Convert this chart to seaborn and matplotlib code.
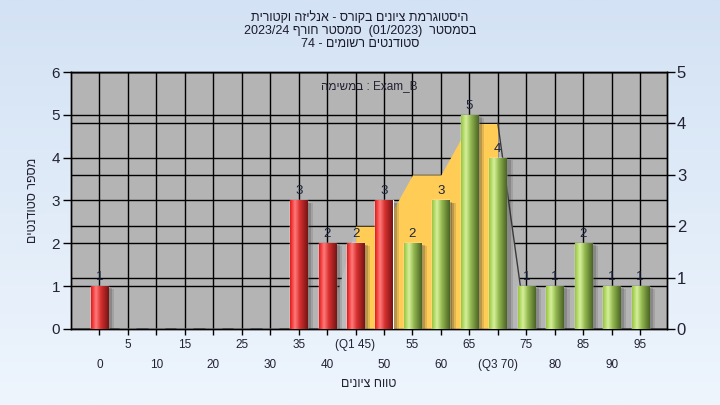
import numpy as np
import pandas as pd
import matplotlib
matplotlib.use("Agg")
import matplotlib.pyplot as plt
import matplotlib.patheffects as pe
from matplotlib.colors import LinearSegmentedColormap, to_rgb
import seaborn as sns

# data
grades = list(range(0, 100, 5))
counts = [1, 0, 0, 0, 0, 0, 0, 3, 2, 2, 3, 2, 3, 5, 4, 1, 1, 2, 1, 1]
tick_labels = ['0', '5', '10', '15', '20', '25', '30', '35', '40', '(Q1 45)',
               '50', '55', '60', '65', '(Q3 70)', '75', '80', '85', '90', '95']
pass_grade = 55
# spread curve on the right axis (yellow between Q1 and Q3)
curve_grades = [40, 45, 50, 55, 60, 65, 70, 75]
curve_values = [0, 2, 2, 3, 3, 4, 4, 0]
q1, q3 = 45, 70

title_lines = ["היסטוגרמת ציונים בקורס - אנליזה וקטורית",
               "בסמסטר  (01/2023)  סמסטר חורף 2023/24",
               "סטודנטים רשומים - 74"]
task_text = "Exam_B : במשימה"
x_title = "טווח ציונים"
y_title = "מספר סטודנטים"


def rtl(s):
    # matplotlib has no bidi support: put words in visual order by hand
    out = []
    for t in reversed(s.split(' ')):
        if any('\u0590' <= c <= '\u05ff' for c in t):
            out.append(t[::-1])
        else:
            out.append(t)
    return ' '.join(out)


sns.set_style("ticks")
plt.rcParams['font.family'] = ['Liberation Sans', 'DejaVu Sans']

df = pd.DataFrame({'grade': [str(g) for g in grades], 'count': counts,
                   'band': ['low' if g < pass_grade else 'high' for g in grades]})

fig = plt.figure(figsize=(7.2, 4.05), dpi=100)

# background gradient
bg = fig.add_axes([0, 0, 1, 1], zorder=-10)
bg.imshow(np.linspace(0, 1, 256).reshape(-1, 1), aspect='auto', extent=[0, 1, 0, 1],
          cmap=LinearSegmentedColormap.from_list('bg', ['#d3e2f4', '#eef5fd']))
bg.axis('off')

ax = fig.add_axes([0.0986, 0.1877, 0.828, 0.6345])
ax2 = ax.twinx()
ax.set_zorder(ax2.get_zorder() + 1)
ax.patch.set_visible(False)
ax2.patch.set_visible(True)
ax2.patch.set_facecolor('#b4b4b4')

sns.barplot(data=df, x='grade', y='count', hue='band', order=df['grade'],
            palette={'low': '#e82020', 'high': '#9cc84a'}, dodge=False,
            width=0.6, errorbar=None, legend=False, ax=ax, zorder=3)

red_cmap = LinearSegmentedColormap.from_list(
    'red', [(0, '#e81818'), (0.28, '#ff7a7a'), (0.55, '#d83030'), (1, '#761414')])
green_cmap = LinearSegmentedColormap.from_list(
    'green', [(0, '#98c640'), (0.28, '#d6f09a'), (0.55, '#93b850'), (1, '#4a6424')])
grad = np.linspace(0, 1, 64).reshape(1, -1)
shadow = [pe.SimplePatchShadow(offset=(1.5, -1), shadow_rgbFace='#303030', alpha=0.3),
          pe.SimplePatchShadow(offset=(3, -1.5), shadow_rgbFace='#303030', alpha=0.22),
          pe.SimplePatchShadow(offset=(4.5, -2), shadow_rgbFace='#303030', alpha=0.14),
          pe.Normal()]
for p in list(ax.patches):
    h = p.get_height()
    if not h or np.isnan(h):
        continue
    p.set_path_effects(shadow)
    cmap = red_cmap if to_rgb(p.get_facecolor())[1] < 0.3 else green_cmap
    x0 = p.get_x()
    im = ax.imshow(grad, cmap=cmap, aspect='auto', zorder=3.5,
                   extent=[x0, x0 + p.get_width(), 0, h])
    im.set_clip_path(p)

# spread area drawn with the right-axis scale, under the bars
cx = [grades.index(g) for g in curve_grades]
i1, i3 = curve_grades.index(q1), curve_grades.index(q3)
ax.fill_between(cx[:i1 + 1], curve_values[:i1 + 1], color='#bcbcbc', lw=0,
                transform=ax2.transData, zorder=2)
ax.fill_between(cx[i1:i3 + 1], curve_values[i1:i3 + 1], color='#ffcc55', lw=0,
                transform=ax2.transData, zorder=2)
ax.fill_between(cx[i3:], curve_values[i3:], color='#b6b6b6', lw=0,
                transform=ax2.transData, zorder=2)
ax.plot(cx[i3:], curve_values[i3:], color='#3a3a3a', lw=1,
        transform=ax2.transData, zorder=2.5)

# value labels
for i, c in enumerate(counts):
    if c:
        ax.text(i, c + 0.07, str(c), ha='center', va='bottom', fontsize=9.5,
                color='#1c2540', zorder=5)

ax.set_xlim(-1, 19.95)
ax.set_ylim(0, 6)
ax2.set_ylim(0, 5)
ax.set_yticks(range(0, 7))
ax2.set_yticks(range(0, 6))
ax.set_xticks(range(len(grades)))
ax.set_xticklabels([lab if i % 2 else '\n' + lab for i, lab in enumerate(tick_labels)])
for lab in ax.get_xticklabels():
    lab.set_linespacing(1.9)

for a in (ax, ax2):
    a.grid(False)
    for s in a.spines.values():
        s.set_visible(True)
        s.set_color('black')
        s.set_linewidth(1)
ax.yaxis.grid(True, color='black', lw=1)
ax.xaxis.grid(True, color='black', lw=1)
ax2.yaxis.grid(True, color='black', lw=1)
ax.set_axisbelow(True)
ax2.set_axisbelow(True)

ax.tick_params(axis='y', direction='out', length=6, width=1, labelsize=11,
               colors='black', labelcolor='#222233', pad=2)
ax2.tick_params(axis='y', direction='out', length=6, width=1, labelsize=12,
                colors='black', labelcolor='#222233', pad=1)
ax.tick_params(axis='x', direction='out', length=4, width=1, labelsize=8.5,
               colors='black', labelcolor='#222233', pad=3)
ax.set_xlabel(rtl(x_title), fontsize=9, color='#222233', labelpad=5)
ax.set_ylabel(rtl(y_title), fontsize=9, color='#222233', labelpad=9)
ax2.set_ylabel('')

ax.text(0.5, 0.945, rtl(task_text), transform=ax.transAxes, ha='center', va='center',
        fontsize=8.5, color='#222233', zorder=6)

for k, line in enumerate(title_lines):
    fig.text(0.5, 1 - (18 + 13 * k) / 405, rtl(line), ha='center', va='center',
             fontsize=9, color='#1a1a2a')

fig.savefig('out.png', dpi=100)
